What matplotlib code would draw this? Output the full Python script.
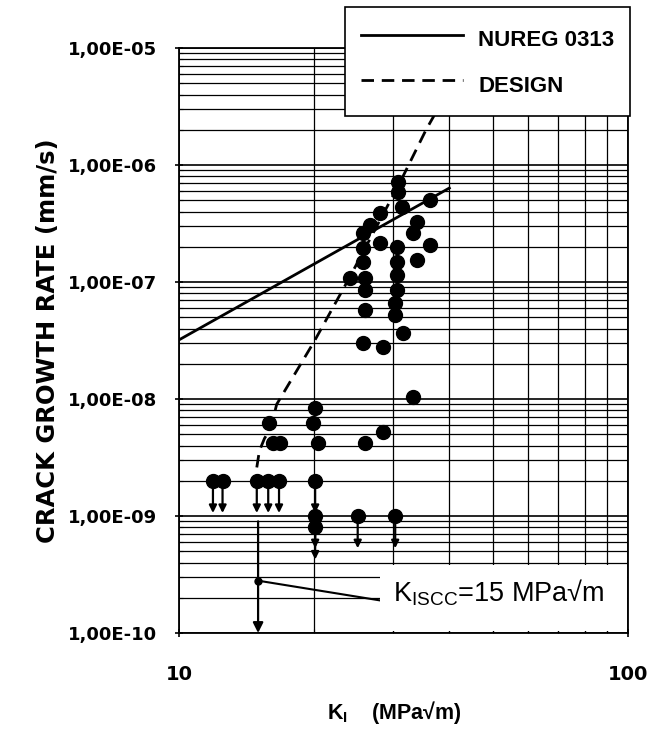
import matplotlib
matplotlib.use("Agg")
import matplotlib.pyplot as plt
from matplotlib.patches import Rectangle
from matplotlib.ticker import FuncFormatter, LogLocator, NullFormatter, FixedLocator

plt.rcParams['mathtext.fontset'] = 'custom'
plt.rcParams['mathtext.rm'] = 'Liberation Sans'
plt.rcParams['mathtext.bf'] = 'Liberation Sans:bold'
plt.rcParams['mathtext.it'] = 'Liberation Sans:italic'

# measured crack growth rates (filled points)
k_meas = [30.7, 30.7, 36.2, 31.4, 28.0, 33.9, 26.6, 33.2, 36.2, 33.9,
          28.0, 25.7, 25.7, 25.7, 30.6, 30.6, 30.6, 30.6, 24.0, 25.9,
          25.9, 25.9, 30.3, 30.3, 31.5, 25.7, 28.5, 33.2, 20.1, 15.9,
          19.9, 28.5, 16.2, 16.8, 20.4, 25.9]
v_meas = [7.1e-7, 5.9e-7, 5.0e-7, 4.4e-7, 3.9e-7, 3.26e-7, 3.07e-7, 2.62e-7, 2.07e-7, 1.54e-7,
          2.16e-7, 2.62e-7, 1.95e-7, 1.48e-7, 1.99e-7, 1.48e-7, 1.15e-7, 8.5e-8, 1.08e-7, 1.08e-7,
          8.5e-8, 5.77e-8, 6.6e-8, 5.2e-8, 3.66e-8, 3.0e-8, 2.78e-8, 1.04e-8, 8.4e-9, 6.2e-9,
          6.2e-9, 5.2e-9, 4.2e-9, 4.2e-9, 4.2e-9, 4.2e-9]

# upper-bound points (no growth detected, drawn with down arrows)
k_bound = [11.9, 12.5, 14.9, 15.8, 16.7, 20.1, 20.1, 20.1, 25.0, 30.3]
v_bound = [2e-9, 2e-9, 2e-9, 2e-9, 2e-9, 2e-9, 1e-9, 8e-10, 1e-9, 1e-9]

# NUREG 0313 disposition line
k_nureg = [10, 40]
v_nureg = [3.2e-8, 6.35e-7]

# design curve
k_design = [14.9, 15.1, 15.5, 16.0, 16.5, 20.0, 24.0, 31.0, 35.5, 45.0]
v_design = [2.6e-9, 3.6e-9, 4.6e-9, 5.6e-9, 9.0e-9, 3.1e-8, 1.1e-7, 7.0e-7, 2.0e-6, 1.0e-5]

y_decades = [1e-10, 1e-9, 1e-8, 1e-7, 1e-6, 1e-5]
x_decades = [10, 100]

K_ISCC = 15
ARROW_DROP = 0.53

fig = plt.figure(figsize=(6.51, 7.29), dpi=100)
ax = fig.add_axes([0.275, 0.1317, 0.6897, 0.8025])
ax.set_xscale('log')
ax.set_yscale('log')
ax.set_xlim(10, 100)
ax.set_ylim(1e-10, 1e-5)

# grid on every decade and sub-decade line
ax.yaxis.set_major_locator(FixedLocator(y_decades))
ax.xaxis.set_major_locator(FixedLocator(x_decades))
ax.yaxis.set_minor_locator(LogLocator(base=10, subs=range(2, 10), numticks=50))
ax.xaxis.set_minor_locator(LogLocator(base=10, subs=range(2, 10), numticks=50))
ax.grid(True, which='major', color='k', lw=1.2)
ax.grid(True, which='minor', color='k', lw=0.9)

ax.yaxis.set_major_formatter(FuncFormatter(lambda v, p: f"{v:.2E}".replace('.', ',')))
ax.xaxis.set_major_formatter(FuncFormatter(lambda v, p: f"{v:g}"))
ax.xaxis.set_minor_formatter(NullFormatter())
ax.yaxis.set_minor_formatter(NullFormatter())

ax.tick_params(which='major', direction='inout', length=6, width=1.2, color='k')
ax.tick_params(which='minor', direction='in', length=3, width=0.8)
ax.tick_params(axis='y', which='major', pad=13, labelsize=13)
ax.tick_params(axis='x', which='major', pad=20, labelsize=14)
for lab in ax.get_xticklabels() + ax.get_yticklabels():
    lab.set_fontweight('bold')
    lab.set_family('DejaVu Sans')
for sp in ax.spines.values():
    sp.set_linewidth(1.3)

# curves
ax.plot(k_nureg, v_nureg, color='k', lw=2.0, label='NUREG 0313')
ax.plot(k_design, v_design, color='k', lw=2.0, dashes=(4.5, 2.8), label='DESIGN')

# data
ax.plot(k_meas, v_meas, 'o', color='k', ms=10, zorder=4)
ax.plot(k_bound, v_bound, 'o', color='k', ms=10, zorder=4)
for k, v in zip(k_bound, v_bound):
    ax.annotate('', xy=(k, v * ARROW_DROP), xytext=(k, v),
                arrowprops=dict(arrowstyle='-|>', color='k', lw=1.6,
                                mutation_scale=11, shrinkA=0, shrinkB=0))

# threshold marker and its label on a white patch
ax.annotate('', xy=(K_ISCC, 1e-10), xytext=(K_ISCC, 9e-10),
            arrowprops=dict(arrowstyle='-|>', color='k', lw=1.6,
                            mutation_scale=15, shrinkA=0, shrinkB=0))
ax.plot([K_ISCC, 28.0], [2.8e-10, 1.9e-10], color='k', lw=1.5)
ax.plot([K_ISCC], [2.8e-10], 'o', color='k', ms=5)
ax.add_patch(Rectangle((0.448, 0.003), 0.55, 0.113, transform=ax.transAxes,
                       fc='white', ec='none', zorder=2.2))
ax.text(30.0, 2.2e-10, r'K$_{\mathrm{ISCC}}$=15 MPa√m', fontsize=19.5,
        family='Liberation Sans', va='center', ha='left', zorder=2.3)

ax.set_ylabel('CRACK GROWTH RATE (mm/s)', fontsize=17.5, fontweight='bold',
              family='DejaVu Sans')
ax.yaxis.set_label_coords(-0.265, 0.5)
ax.set_xlabel(r'$\mathbf{K_I}$    (MPa√m)', fontsize=15.5, fontweight='bold',
              family='Liberation Sans')
ax.xaxis.set_label_coords(0.48, -0.112)

leg = ax.legend(loc='upper right', bbox_to_anchor=(0.968, 0.990),
                bbox_transform=fig.transFigure, prop={'family': 'Liberation Sans',
                                                      'weight': 'bold', 'size': 16},
                handlelength=4.6, handleheight=1.8, handletextpad=0.68,
                labelspacing=0.64, borderpad=0.72, borderaxespad=0,
                fancybox=False, framealpha=1, edgecolor='k')
leg.get_frame().set_linewidth(1.2)

fig.savefig('out.png', dpi=100)
